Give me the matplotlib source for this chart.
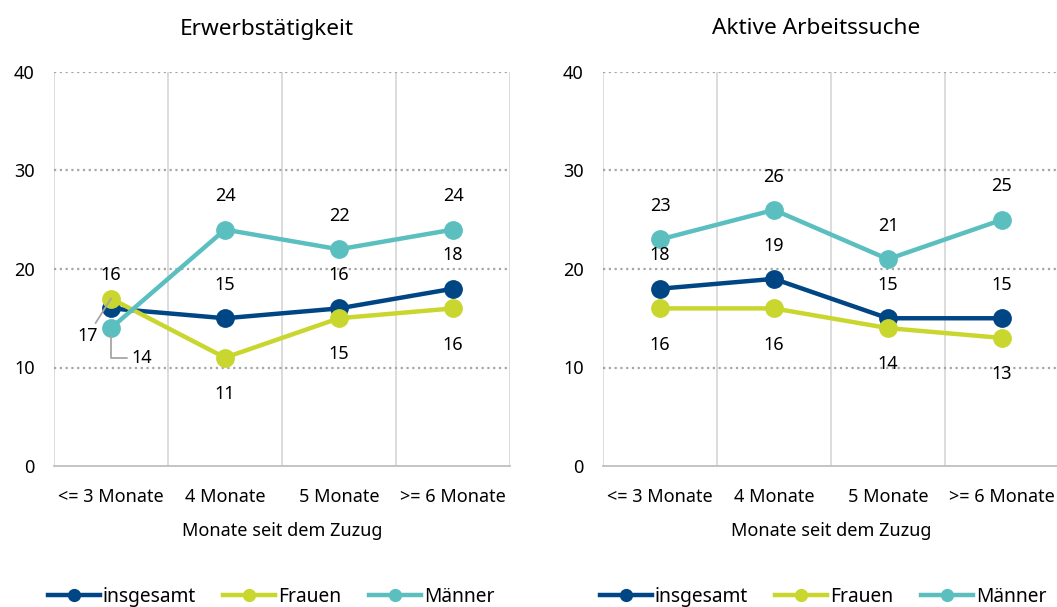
import matplotlib
matplotlib.use("Agg")
import matplotlib.pyplot as plt
from matplotlib.lines import Line2D

plt.rcParams['font.family'] = ['Noto Sans', 'DejaVu Sans']

categories = ['<= 3 Monate', '4 Monate', '5 Monate', '>= 6 Monate']
series_names = ['insgesamt', 'Frauen', 'Männer']
colors = ['#004584', '#c9d62e', '#5bbfc0']

# Erwerbstätigkeit
erw_insgesamt = [16, 15, 16, 18]
erw_frauen = [17, 11, 15, 16]
erw_maenner = [14, 24, 22, 24]

# Aktive Arbeitssuche
such_insgesamt = [18, 19, 15, 15]
such_frauen = [16, 16, 14, 13]
such_maenner = [23, 26, 21, 25]

W, H = 1057, 607
fig = plt.figure(figsize=(W / 100, H / 100), dpi=100)

FS = 13
ABOVE = 24   # label offset in points
BELOW = -26


def setup(ax, title):
    n = len(categories)
    ax.set_xlim(-0.5, n - 0.5)
    ax.set_ylim(0, 40)
    ax.set_yticks([0, 10, 20, 30, 40])
    ax.set_xticks(range(n))
    ax.set_xticklabels(categories, fontsize=FS)
    ax.tick_params(axis='y', length=0, pad=14, labelsize=FS)
    ax.tick_params(axis='x', length=0, pad=15.5)
    for s in ['top', 'right', 'left']:
        ax.spines[s].set_visible(False)
    ax.spines['bottom'].set_color('#bfbfbf')
    ax.spines['bottom'].set_linewidth(1.3)
    for yv in [10, 20, 30, 40]:
        ax.axhline(yv, color='#a6a6a6', lw=1.6, ls=(0, (1, 1.6)), zorder=1)
    for xv in [i - 0.5 for i in range(n + 1)]:
        ax.axvline(xv, color='#d9d9d9', lw=1.3, zorder=0.5)
    ax.set_title(title, fontsize=16.3, pad=27, x=0.467)
    ax.set_xlabel('Monate seit dem Zuzug', fontsize=FS, labelpad=12)


def draw(ax, data):
    x = range(len(categories))
    for vals, c, name in zip(data, colors, series_names):
        ax.plot(x, vals, color=c, lw=3.2, marker='o', ms=12.5, label=name,
                zorder=3, solid_capstyle='round')


def label(ax, i, v, dy, dx=0, **kw):
    ax.annotate(str(v), xy=(i, v), xytext=(dx, dy), textcoords='offset points',
                ha='center', va='center', fontsize=FS, zorder=5, **kw)


ax1 = fig.add_axes([54 / W, 141 / H, 456 / W, 394 / H])
setup(ax1, 'Erwerbstätigkeit')
draw(ax1, [erw_insgesamt, erw_frauen, erw_maenner])
for i in range(1, len(categories)):
    label(ax1, i, erw_insgesamt[i], ABOVE)
    label(ax1, i, erw_frauen[i], BELOW)
    label(ax1, i, erw_maenner[i], ABOVE)
label(ax1, 0, erw_insgesamt[0], ABOVE)
label(ax1, 0, erw_frauen[0], -27, dx=-17,
      arrowprops=dict(arrowstyle='-', color='#a6a6a6', lw=1.3,
                      shrinkA=1, shrinkB=0))
label(ax1, 0, erw_maenner[0], -21.5, dx=22,
      arrowprops=dict(arrowstyle='-', color='#a6a6a6', lw=1.3,
                      connectionstyle='angle,angleA=0,angleB=90,rad=0',
                      shrinkA=1, shrinkB=6))

ax2 = fig.add_axes([603 / W, 141 / H, 456 / W, 394 / H])
setup(ax2, 'Aktive Arbeitssuche')
draw(ax2, [such_insgesamt, such_frauen, such_maenner])
for i in range(len(categories)):
    label(ax2, i, such_insgesamt[i], ABOVE)
    label(ax2, i, such_frauen[i], BELOW)
    label(ax2, i, such_maenner[i], ABOVE)

handles = [Line2D([], [], color=c, lw=3.2, marker='o', ms=8.5) for c in colors]
for cx in [271 / W, 823 / W]:
    fig.legend(handles, series_names, loc='center', bbox_to_anchor=(cx, 10 / H),
               ncol=3, frameon=False, fontsize=13.8, handlelength=2.7,
               handletextpad=0.15, columnspacing=1.45)

fig.savefig('out.png', dpi=100)
